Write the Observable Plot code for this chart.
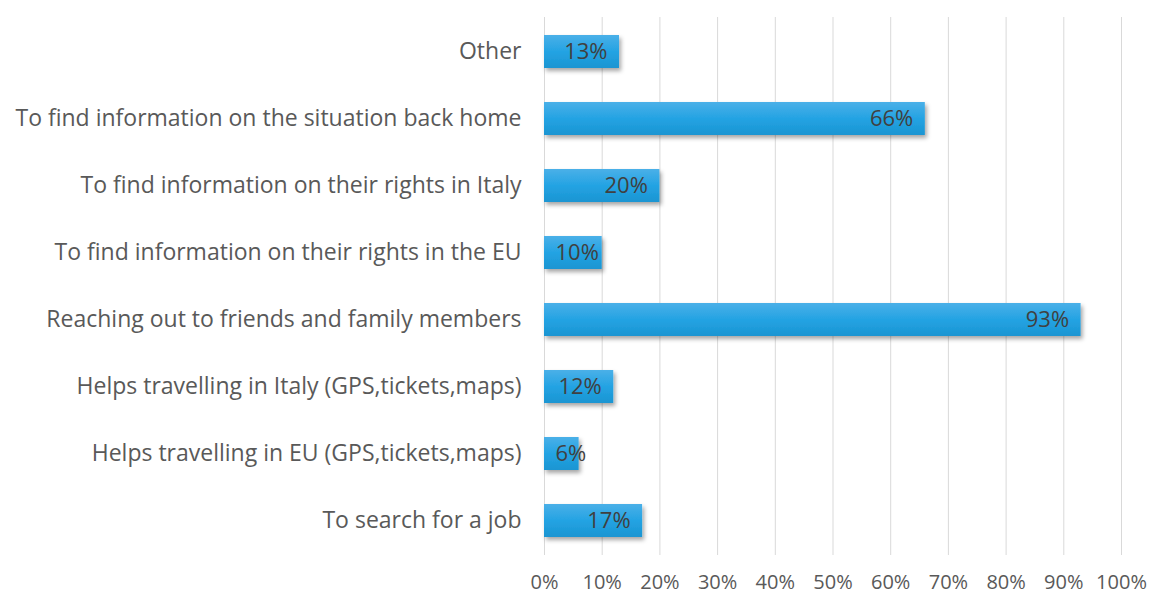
<!DOCTYPE html>
<html>
<head>
<meta charset="utf-8">
<script src="https://cdn.jsdelivr.net/npm/d3@7"></script>
<script src="https://cdn.jsdelivr.net/npm/@observablehq/plot@0.6"></script>
<style>
  html, body { margin: 0; padding: 0; background: #ffffff; }
  #chart { width: 1150px; height: 594px; }
</style>
</head>
<body>
<div id="chart"></div>
<script>
const categories = [
  "Other",
  "To find information on the situation back home",
  "To find information on their rights in Italy",
  "To find information on their rights in the EU",
  "Reaching out to friends and family members",
  "Helps travelling in Italy (GPS,tickets,maps)",
  "Helps travelling in EU (GPS,tickets,maps)",
  "To search for a job"
];
const values = [13, 66, 20, 10, 93, 12, 6, 17];
const xTicks = [0, 10, 20, 30, 40, 50, 60, 70, 80, 90, 100];

const data = categories.map((c, i) => ({category: c, value: values[i]}));

const chart = Plot.plot({
  width: 1150,
  height: 594,
  marginTop: 17,
  marginBottom: 39,
  marginLeft: 544,
  marginRight: 29,
  style: {fontFamily: "'Open Sans', sans-serif", fontSize: "20px", color: "#595959", background: "#ffffff"},
  x: {domain: [0, 100], ticks: xTicks, tickFormat: d => d + "%", tickSize: 0, tickPadding: 19, label: null, grid: false},
  y: {domain: categories, paddingInner: 0.51, paddingOuter: 0.255, tickSize: 0, tickPadding: 23, label: null},
  marks: [
    Plot.ruleX(xTicks, {stroke: "#d9d9d9", strokeWidth: 1}),
    Plot.barX(data, {x: "value", y: "category", fill: "url(#barGrad)"}),
    Plot.text(data.filter(d => d.value > 10), {x: "value", y: "category", text: d => d.value + "%", textAnchor: "end", dx: -12, fill: "#404040", fontSize: 22}),
    Plot.text(data.filter(d => d.value <= 10), {x: 0, y: "category", text: d => d.value + "%", textAnchor: "start", dx: 11, fill: "#404040", fontSize: 22})
  ]
});

document.getElementById("chart").appendChild(chart);

const svg = d3.select(chart);
const defs = svg.insert("defs", ":first-child");
const grad = defs.append("linearGradient").attr("id", "barGrad").attr("x1", 0).attr("y1", 0).attr("x2", 0).attr("y2", 1);
grad.append("stop").attr("offset", "0%").attr("stop-color", "#4ab0e8");
grad.append("stop").attr("offset", "50%").attr("stop-color", "#24a3e3");
grad.append("stop").attr("offset", "100%").attr("stop-color", "#1a95d2");
const filt = defs.append("filter").attr("id", "barShadow").attr("x", "-10%").attr("y", "-30%").attr("width", "130%").attr("height", "180%");
filt.append("feDropShadow").attr("dx", 2).attr("dy", 3).attr("stdDeviation", 2).attr("flood-color", "#000").attr("flood-opacity", 0.35);
svg.selectAll("g[aria-label='bar']").attr("filter", "url(#barShadow)");
svg.selectAll("g[aria-label^='y-axis']").attr("font-size", 23);
</script>
</body>
</html>
